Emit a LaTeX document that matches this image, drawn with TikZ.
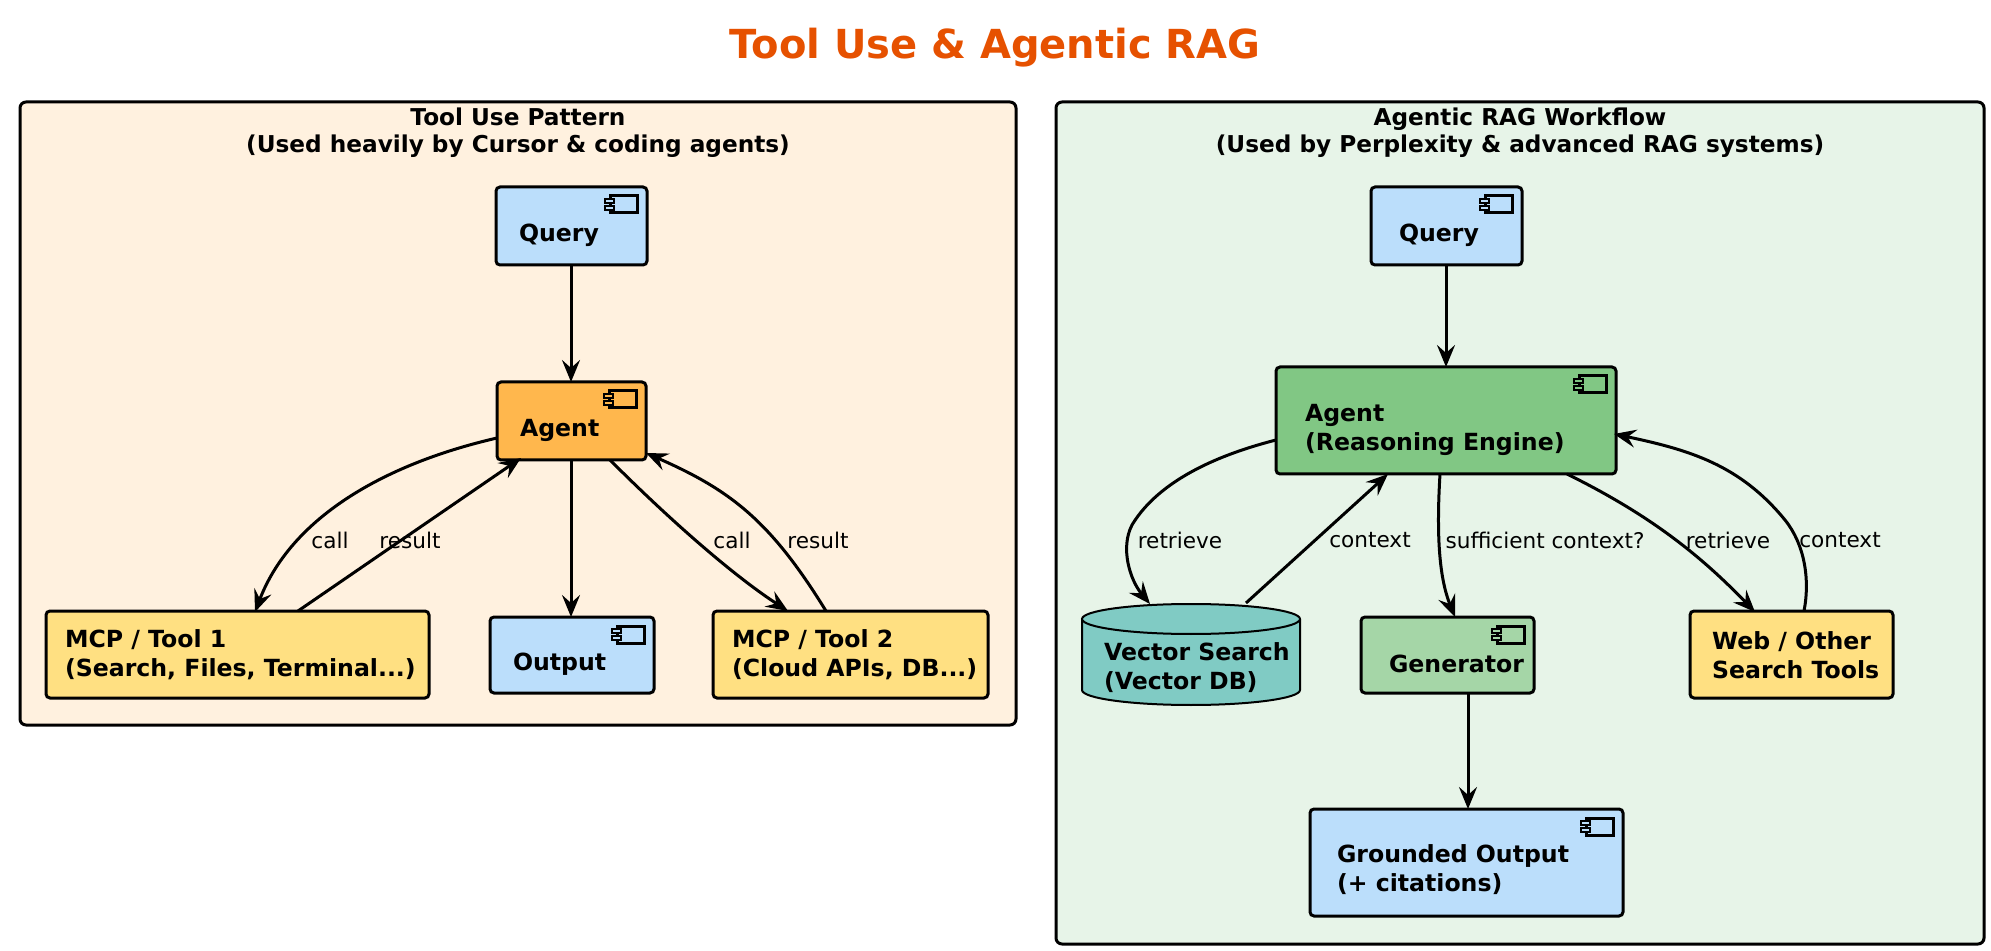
\documentclass[tikz,border=0pt]{standalone}
\usepackage{fontspec}
\setmainfont{DejaVu Sans}
\usetikzlibrary{arrows.meta,shapes.geometric}
\begin{document}
\begin{tikzpicture}[x=0.5pt,y=-0.5pt,
  comp/.style={draw,line width=1.5pt,rounded corners=2pt},
  panel/.style={draw,line width=1.5pt,rounded corners=3pt},
  ptitle/.style={font=\bfseries\fontsize{11.6}{13.5}\selectfont,align=center},
  nt/.style={anchor=west,align=left,font=\bfseries\fontsize{11.8}{14.5}\selectfont},
  arr/.style={-{Stealth[length=11pt,width=9pt,inset=4pt]},line width=1.5pt},
  lab/.style={font=\fontsize{10.8}{12}\selectfont}]
\definecolor{qb}{HTML}{BBDEFB}\definecolor{ag}{HTML}{FFB74D}\definecolor{ty}{HTML}{FFE082}
\definecolor{ga}{HTML}{81C784}\definecolor{gg}{HTML}{A5D6A7}\definecolor{vs}{HTML}{80CBC4}
\definecolor{pl}{HTML}{FFF1DF}\definecolor{pr}{HTML}{E7F4E8}\definecolor{tc}{HTML}{E65100}
\useasboundingbox (0,0) rectangle (1991,951);
\fill[white] (0,0) rectangle (1991,951);
\node[text=tc,font=\bfseries\fontsize{20}{22}\selectfont] (title) at (995,48) {Tool Use \& Agentic RAG};
\draw[panel,fill=pl] (20,102) rectangle (1016,725);
\node[ptitle] (lt) at (518,133) {Tool Use Pattern\\(Used heavily by Cursor \& coding agents)};
\draw[panel,fill=pr] (1056,102) rectangle (1984,944);
\node[ptitle] (rt) at (1520,133) {Agentic RAG Workflow\\(Used by Perplexity \& advanced RAG systems)};
\newcommand{\mycomp}[5]{%
  \draw[comp,fill=#5] (#1,#2) rectangle (#3,#4);
  \draw[line width=1.5pt,fill=#5] (#3-37,#2+9) rectangle (#3-10,#2+26);
  \draw[line width=1.3pt,fill=#5] (#3-42,#2+12) rectangle (#3-33,#2+16);
  \draw[line width=1.3pt,fill=#5] (#3-42,#2+19) rectangle (#3-33,#2+23);
}
\newcommand{\mybox}[5]{\draw[comp,fill=#5] (#1,#2) rectangle (#3,#4);}
\mycomp{496}{187}{647}{265}{qb}
\node[nt] (q1) at (512,235) {Query};
\mycomp{497}{382}{646}{460}{ag}
\node[nt] (a1) at (513,430) {Agent};
\mycomp{490}{617}{654}{693}{qb}
\node[nt] (o1) at (506,664) {Output};
\mybox{46}{611}{429}{698}{ty}
\node[nt] (m1) at (58,655) {MCP / Tool 1\\(Search, Files, Terminal...)};
\mybox{713}{611}{988}{698}{ty}
\node[nt] (m2) at (725,655) {MCP / Tool 2\\(Cloud APIs, DB...)};
\mycomp{1371}{187}{1522}{265}{qb}
\node[nt] (q2) at (1392,235) {Query};
\mycomp{1276}{367}{1616}{474}{ga}
\node[nt] (a2) at (1298,430) {Agent\\(Reasoning Engine)};
\mycomp{1361}{617}{1534}{693}{gg}
\node[nt] (g2) at (1382,664) {Generator};
\mybox{1690}{611}{1893}{698}{ty}
\node[nt] (w2) at (1705,655) {Web / Other\\Search Tools};
\mycomp{1310}{809}{1623}{916}{qb}
\node[nt] (o2) at (1330,870) {Grounded Output\\(+ citations)};
% cylinder
\draw[line width=1pt,fill=vs] (1082,619) -- (1082,690) arc[start angle=180,end angle=0,x radius=109,y radius=15] -- (1300,619);
\draw[line width=1pt,fill=vs] (1191,619) ellipse[x radius=109,y radius=15];
\node[nt] (vs) at (1097,668) {Vector Search\\(Vector DB)};
% coordinates
\coordinate (q1b) at (571,265); \coordinate (a1t) at (571,382);
\coordinate (a1b) at (571,460); \coordinate (o1t) at (571,617);
\coordinate (a1l) at (497,438); \coordinate (m1c) at (255,612);
\coordinate (m1r) at (298,611); \coordinate (a1r1) at (521,458);
\coordinate (a1c) at (610,460); \coordinate (m2c) at (788,611);
\coordinate (m2r) at (826,611); \coordinate (a1rr) at (646,453);
\coordinate (q2b) at (1446,265); \coordinate (a2t) at (1446,367);
\coordinate (a2l) at (1276,440); \coordinate (vst) at (1150,604);
\coordinate (vsr) at (1246,603); \coordinate (a2b1) at (1388,474);
\coordinate (a2b2) at (1440,474); \coordinate (g2t) at (1455,617);
\coordinate (a2b3) at (1567,474); \coordinate (w2t) at (1755,612);
\coordinate (w2r) at (1804,611); \coordinate (a2r) at (1614,434);
\coordinate (g2b) at (1468,693); \coordinate (o2t) at (1468,809);
\draw[arr] (q1b) -- (a1t);
\draw[arr] (a1b) -- (o1t);
\draw[arr] (a1l) .. controls (380,465) and (290,520) .. (m1c);
\draw[arr] (m1r) -- (a1r1);
\draw[arr] (a1c) .. controls (680,530) and (740,580) .. (m2c);
\draw[arr] (m2r) .. controls (770,520) and (730,490) .. (a1rr);
\draw[arr] (q2b) -- (a2t);
\draw[arr] (a2l) .. controls (1190,462) and (1150,495) .. (1132,525) .. controls (1120,548) and (1130,580) .. (vst);
\draw[arr] (vsr) -- (a2b1);
\draw[arr] (a2b2) .. controls (1436,540) and (1440,580) .. (g2t);
\draw[arr] (a2b3) .. controls (1650,515) and (1700,555) .. (w2t);
\draw[arr] (w2r) .. controls (1810,580) and (1805,545) .. (1785,520) .. controls (1740,465) and (1690,450) .. (a2r);
\draw[arr] (g2b) -- (o2t);
\node[lab] (l1) at (330,540) {call};
\node[lab] (l2) at (410,540) {result};
\node[lab] (l3) at (732,540) {call};
\node[lab] (l4) at (818,540) {result};
\node[lab] (l5) at (1180,540) {retrieve};
\node[lab] (l6) at (1370,540) {context};
\node[lab] (l7) at (1545,540) {sufficient context?};
\node[lab] (l8) at (1728,540) {retrieve};
\node[lab] (l9) at (1840,540) {context};
\end{tikzpicture}
\end{document}
